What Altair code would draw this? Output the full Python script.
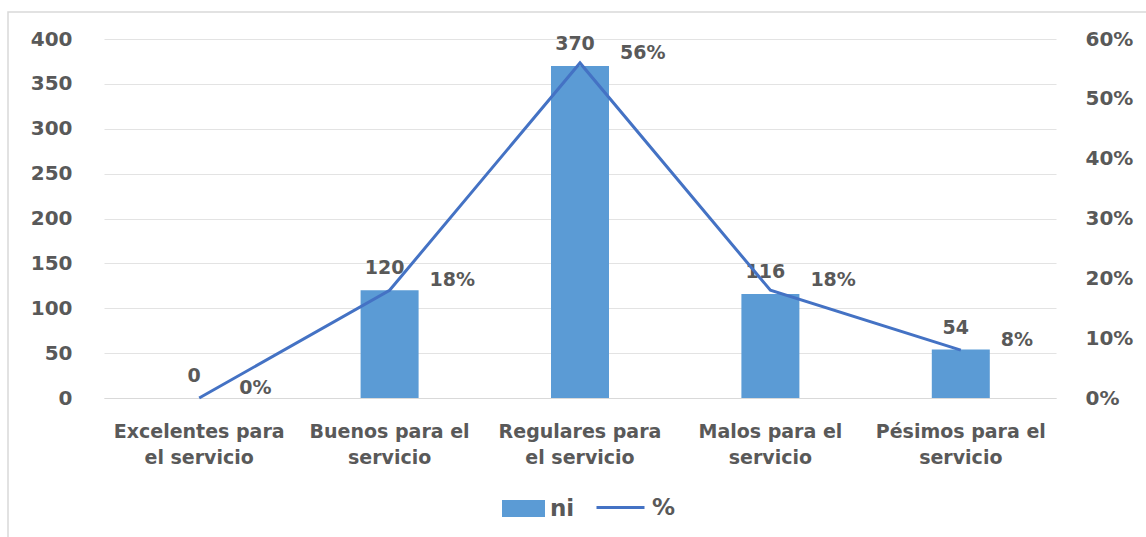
import altair as alt
import pandas as pd

categories = ["Excelentes para el servicio", "Buenos para el servicio",
              "Regulares para el servicio", "Malos para el servicio",
              "Pésimos para el servicio"]
ni = [0, 120, 370, 116, 54]
pct = [0.00, 0.18, 0.56, 0.18, 0.08]
left_ticks = [0, 50, 100, 150, 200, 250, 300, 350, 400]
right_ticks = [0.0, 0.1, 0.2, 0.3, 0.4, 0.5, 0.6]

df = pd.DataFrame({"cat": categories, "ni": ni, "pct": pct})

FONT = "DejaVu Sans"
GRAY = "#595959"
BAR = "#5B9BD5"
LINE = "#4472C4"

label_expr = ("length(replace(datum.label, ' servicio', '')) <= 15 ? "
              "[replace(datum.label, ' servicio', ''), 'servicio'] : "
              "[replace(datum.label, ' el servicio', ''), 'el servicio']")

x_enc = alt.X("cat:N", sort=categories,
              scale=alt.Scale(paddingInner=0, paddingOuter=0),
              axis=alt.Axis(title=None, labelAngle=0, labelExpr=label_expr,
                            labelFont=FONT, labelFontSize=19, labelFontWeight="bold",
                            labelColor=GRAY, labelPadding=24, labelLineHeight=26,
                            labelBaseline="top",
                            ticks=False, domain=True, domainColor="#d9d9d9",
                            domainWidth=1, grid=False))

base = alt.Chart(df)

bars = base.mark_bar(size=58).transform_calculate(s="'ni'").encode(
    x=x_enc,
    y=alt.Y("ni:Q", scale=alt.Scale(domain=[0, 400]),
            axis=alt.Axis(title=None, orient="left", values=left_ticks,
                          labelFont=FONT, labelFontSize=20, labelFontWeight="bold",
                          labelColor=GRAY, labelPadding=32, ticks=False,
                          domain=False, grid=True, gridColor="#e3e3e3")),
    color=alt.Color("s:N", scale=alt.Scale(domain=["ni"], range=[BAR]),
                    legend=alt.Legend(title=None, orient="none", legendX=398,
                                      legendY=448, padding=0,
                                      symbolType="M-1,-0.4H1V0.4H-1Z",
                                      symbolSize=1849, symbolStrokeWidth=0,
                                      labelFont=FONT, labelFontSize=23,
                                      labelFontWeight="bold", labelColor=GRAY,
                                      labelOffset=5)),
)

bar_text = base.mark_text(font=FONT, fontSize=19, fontWeight="bold", color=GRAY,
                          baseline="middle", dx=-5, dy=-22).encode(
    x=alt.X("cat:N", sort=categories),
    y=alt.Y("ni:Q"),
    text=alt.Text("ni:Q"),
)

line = base.mark_line(strokeWidth=3).transform_calculate(t="'%'").encode(
    x=alt.X("cat:N", sort=categories),
    y=alt.Y("pct:Q", scale=alt.Scale(domain=[0, 0.6]),
            axis=alt.Axis(title=None, orient="right", values=right_ticks,
                          format=".0%", labelFont=FONT, labelFontSize=20,
                          labelFontWeight="bold", labelColor=GRAY, labelPadding=29,
                          ticks=False, domain=False, grid=False)),
    stroke=alt.Stroke("t:N", scale=alt.Scale(domain=["%"], range=[LINE]),
                      legend=alt.Legend(title=None, orient="none", legendX=491,
                                        legendY=443, padding=0,
                                        symbolType="stroke", symbolSize=2304,
                                        symbolStrokeWidth=3,
                                        labelFont=FONT, labelFontSize=23,
                                        labelFontWeight="bold", labelColor=GRAY,
                                        labelOffset=6)),
)

pct_text = base.mark_text(font=FONT, fontSize=19, fontWeight="bold", color=GRAY,
                          align="left", baseline="middle", dx=40, dy=-10).encode(
    x=alt.X("cat:N", sort=categories),
    y=alt.Y("pct:Q"),
    text=alt.Text("pct:Q", format=".0%"),
)

frame = alt.Chart(alt.Data(values=[{"a": 1}])).mark_rect(
    fill=None, stroke="#d9d9d9", strokeWidth=1.5).encode(
    x=alt.value(-96), x2=alt.value(1060), y=alt.value(-27), y2=alt.value(510))

chart = alt.layer(
    frame,
    alt.layer(bars, bar_text),
    alt.layer(line, pct_text),
).resolve_scale(y="independent", color="independent", stroke="independent").properties(
    width=952, height=359,
    autosize=alt.AutoSizeParams(type="none"),
    padding={"left": 104, "top": 39, "right": 90, "bottom": 139},
    background="white",
).configure_view(stroke=None)

chart.save("out.html", embed_options={"renderer": "svg", "actions": False})
